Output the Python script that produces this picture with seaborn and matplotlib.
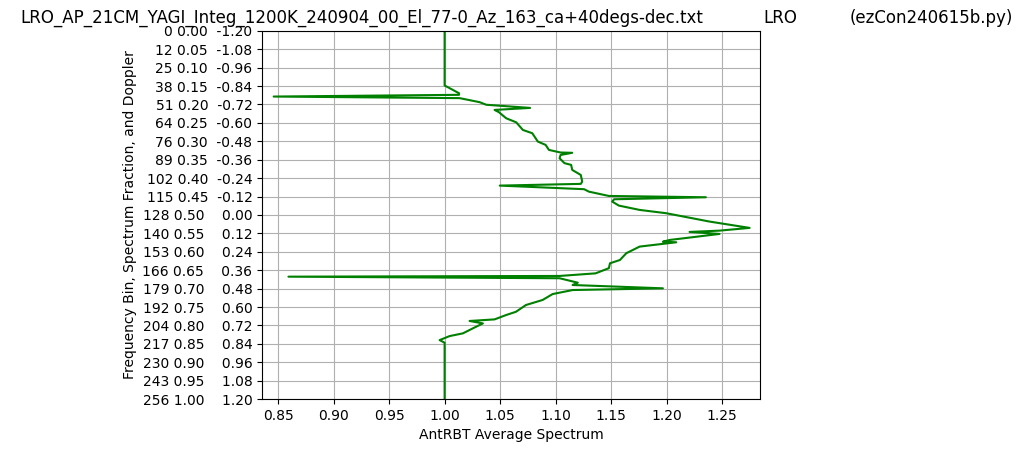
import matplotlib
matplotlib.use("Agg")
import matplotlib.pyplot as plt
import seaborn as sns
import numpy as np

# spectrum (frequency bin, AntRBT average)
bins = [0, 38.0, 43.4, 44.5, 45.7, 46.8, 49.6, 51.4, 53.6, 55.0, 56.6, 60.8,
        63.6, 68.9, 71.2, 77.0, 79.3, 82.8, 84.6, 84.8, 86.3, 88.6, 92.0, 93.2,
        96.7, 100.2, 104.8, 106.4, 107.6, 110.1, 111.8, 114.8, 115.7, 117.1,
        118.7, 121.5, 124.5, 126.8, 132.6, 137.0, 138.9, 139.8, 141.2, 145.4,
        146.6, 147.0, 150.0, 154.6, 159.3, 161.6, 165.0, 168.6, 170.4, 170.9,
        172.0, 175.1, 176.7, 179.0, 180.2, 183.0, 187.1, 190.6, 195.3, 197.6,
        200.6, 201.7, 203.4, 206.8, 210.3, 212.2, 215.0, 216.8, 256]
spectrum = [1.000, 1.000, 1.013, 1.013, 0.846, 1.0135, 1.0315, 1.0375, 1.077,
            1.045, 1.049, 1.0555, 1.0645, 1.0705, 1.079, 1.084, 1.091, 1.094,
            1.1045, 1.115, 1.1045, 1.1036, 1.108, 1.114, 1.115, 1.1227, 1.124,
            1.1227, 1.0497, 1.1257, 1.130, 1.148, 1.2354, 1.1527, 1.151, 1.157,
            1.1757, 1.1997, 1.2387, 1.2748, 1.2477, 1.2207, 1.2477, 1.2027,
            1.1967, 1.2087, 1.1757, 1.1637, 1.158, 1.149, 1.148, 1.136, 1.1036,
            0.8593, 1.1036, 1.120, 1.1153, 1.1967, 1.1153, 1.0973, 1.0883,
            1.0733, 1.0643, 1.0553, 1.045, 1.0225, 1.0345, 1.0255, 1.0165,
            1.0045, 0.9955, 1.000, 1.000]

fractions = np.arange(0, 1.0001, 0.05)
tick_pos = fractions * 256
doppler = np.round(np.linspace(-1.2, 1.2, len(fractions)), 2) + 0.0
tick_labels = []
for p, f, d in zip(tick_pos, fractions, doppler):
    dtxt = f"{d:.2f}" if d < 0 else f"  {abs(d):.2f}"
    tick_labels.append(f"{int(p)} {f:.2f}  {dtxt}")

fig = plt.figure(figsize=(10.24, 4.53), dpi=100)
ax = fig.add_axes([0.256, 0.119, 0.486, 0.813])

sns.lineplot(x=spectrum, y=bins, sort=False, estimator=None, color="green",
             linewidth=1.5, ax=ax)

ax.set_ylim(256, 0)
ax.set_xlim(0.8356, 1.284)
ax.set_yticks(tick_pos)
ax.set_yticklabels(tick_labels)
xt = np.arange(0.85, 1.2501, 0.05)
ax.set_xticks(xt)
ax.set_xticklabels([f"{v:.2f}" for v in xt])
ax.grid(True, color="#b0b0b0")
ax.set_axisbelow(True)
ax.set_xlabel("AntRBT Average Spectrum")
ax.set_ylabel("Frequency Bin, Spectrum Fraction, and Doppler")

fig.text(0.02, 0.96, "LRO_AP_21CM_YAGI_Integ_1200K_240904_00_El_77-0_Az_163_ca+40degs-dec.txt",
         fontsize=12, va="center")
fig.text(0.745, 0.96, "LRO", fontsize=12, va="center")
fig.text(0.83, 0.96, "(ezCon240615b.py)", fontsize=12, va="center")

fig.savefig("out.png", dpi=100)
